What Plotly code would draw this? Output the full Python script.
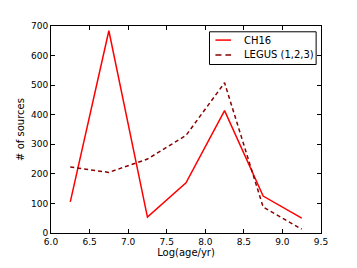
import plotly.graph_objects as go

age = [6.25, 6.75, 7.25, 7.75, 8.25, 8.75, 9.25]
ch16 = [105, 684, 54, 170, 414, 125, 50]
legus = [223, 205, 250, 330, 508, 88, 13]
xticks = [6.0, 6.5, 7.0, 7.5, 8.0, 8.5, 9.0, 9.5]
xticklabels = ["6.0", "6.5", "7.0", "7.5", "8.0", "8.5", "9.0", "9.5"]
yticks = [0, 100, 200, 300, 400, 500, 600, 700]
series_names = ["CH16", "LEGUS (1,2,3)"]
series_colors = ["#ff0000", "#8b0000"]
series_dash = ["solid", "4px,3px"]
legend_dash = ["solid", "6px,4px"]

fig = go.Figure()
for name, vals, col, dash in zip(series_names, [ch16, legus], series_colors, series_dash):
    fig.add_trace(go.Scatter(x=age, y=vals, mode="lines", name=name,
                             line=dict(color=col, width=1.5, dash=dash)))

# manual matplotlib-style legend (compact)
shapes = [dict(type="rect", xref="paper", yref="paper", x0=0.587, x1=0.982, y0=0.814, y1=0.972,
               line=dict(color="black", width=1), fillcolor="white", layer="above")]
annotations = []
rows_y = [0.932, 0.860]
for name, col, dash, yy in zip(series_names, series_colors, legend_dash, rows_y):
    shapes.append(dict(type="line", xref="paper", yref="paper", x0=0.609, x1=0.667, y0=yy, y1=yy,
                       line=dict(color=col, width=1.5, dash=dash), layer="above"))
    annotations.append(dict(xref="paper", yref="paper", x=0.708, y=yy, text=name, showarrow=False,
                            xanchor="left", yanchor="middle", font=dict(size=10, color="black")))

axis_common = dict(showgrid=False, zeroline=False, showline=True, linecolor="black",
                   linewidth=1, mirror="allticks", ticks="inside", ticklen=4,
                   tickcolor="black", tickfont=dict(family="DejaVu Sans", size=9, color="black"))
# page body has an 8px margin, so the figure is sized/offset to compensate
fig.update_layout(
    width=349, height=260,
    margin=dict(l=37, r=36, t=18, b=27),
    paper_bgcolor="white", plot_bgcolor="white",
    font=dict(family="DejaVu Sans", size=9, color="black"),
    xaxis=dict(range=[6.0, 9.5], tickvals=xticks, ticktext=xticklabels,
               title=dict(text="Log(age/yr)", standoff=2, font=dict(size=10)), **axis_common),
    yaxis=dict(range=[0, 700], tickvals=yticks,
               title=dict(text="# of sources", standoff=4, font=dict(size=10)), **axis_common),
    shapes=shapes, annotations=annotations,
    showlegend=False,
)
fig.write_html("out.html")
